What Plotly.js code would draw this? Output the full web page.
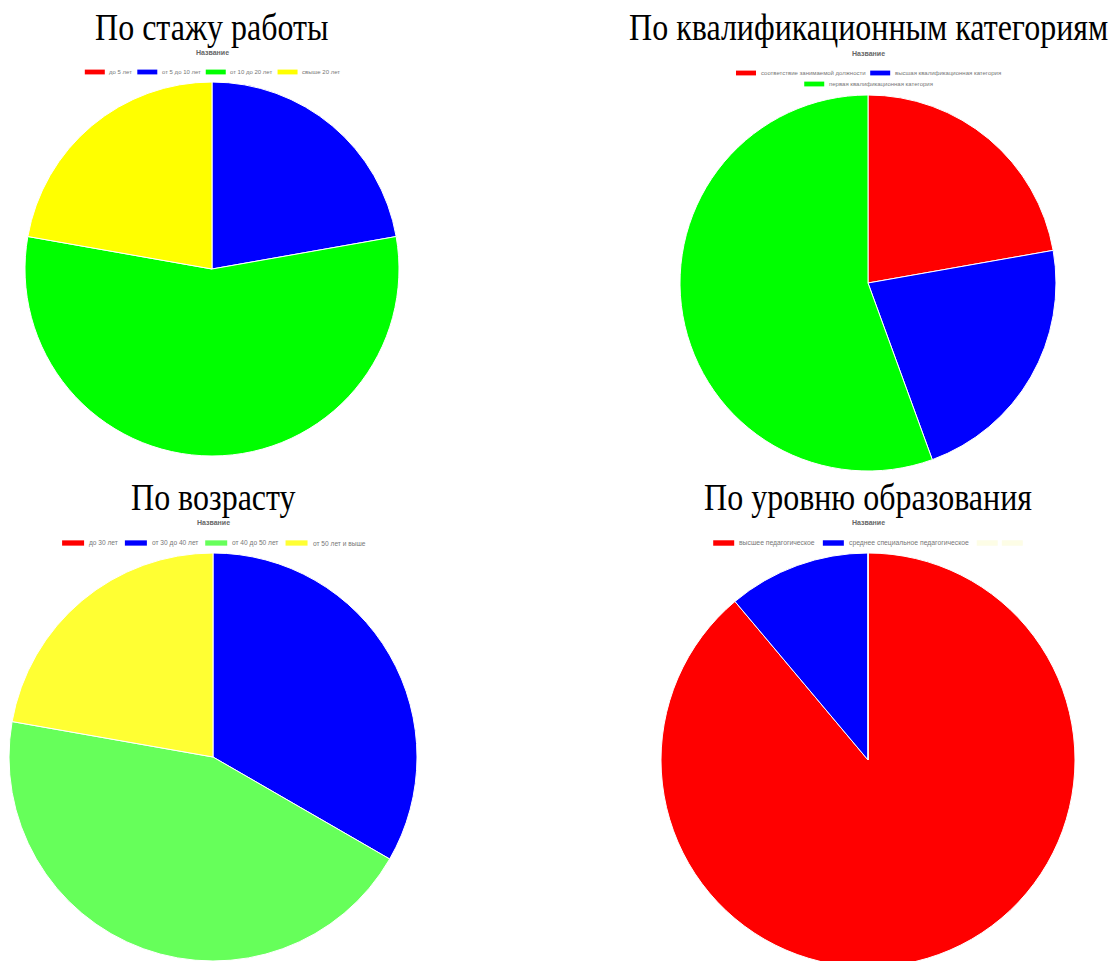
<!DOCTYPE html>
<html>
<head>
<meta charset="utf-8">
<script src="https://cdn.plot.ly/plotly-3.0.1.min.js"></script>
<style>
html, body { margin: 0; padding: 0; background: #fff; overflow: hidden; }
#chart { width: 1113px; height: 970px; }
.stretch { transform-box: fill-box; transform-origin: center; transform: scaleY(1.18); }
</style>
</head>
<body>
<div id="chart"></div>
<script>
// ---- data ----
const chartTitles = ["По стажу работы", "По квалификационным категориям", "По возрасту", "По уровню образования"];
const datasetName = "Название";

const experienceLabels = ["до 5 лет", "от 5 до 10 лет", "от 10 до 20 лет", "свыше 20 лет"];
const experienceValues = [0, 2, 5, 2];
const experienceColors = ["#ff0000", "#0000ff", "#00ff00", "#ffff00"];

const categoryLabels = ["соответствие занимаемой должности", "высшая квалификационная категория", "первая квалификационная категория"];
const categoryValues = [2, 2, 5];
const categoryColors = ["#ff0000", "#0000ff", "#00ff00"];

const ageLabels = ["до 30 лет", "от 30 до 40 лет", "от 40 до 50 лет", "от 50 лет и выше"];
const ageValues = [0, 3, 4, 2];
const ageColors = ["#ff0000", "#0000ff", "#66ff5a", "#ffff33"];

const educationLabels = ["высшее педагогическое", "среднее специальное педагогическое", ""];
const educationValues = [8, 1, 0];
const educationColors = ["#ff0000", "#0000ff", "#fdfde6"];

// ---- layout settings (pixels) ----
const W = 1113, H = 970;
const panels = [
  {labels: experienceLabels, values: experienceValues, colors: experienceColors,
   cx: 212, cy: 269, r: 187, titleY: 27, nameY: 52, legendY: 72, fs: 6, box: 20, gap: 6, maxW: 330},
  {labels: categoryLabels, values: categoryValues, colors: categoryColors,
   cx: 868, cy: 283, r: 188, titleY: 27, nameY: 53, legendY: 73, fs: 6, box: 20, gap: 6, maxW: 330},
  {labels: ageLabels, values: ageValues, colors: ageColors,
   cx: 213, cy: 757, r: 204, titleY: 497, nameY: 522, legendY: 543, fs: 6.6, box: 22, gap: 8, maxW: 400},
  {labels: educationLabels, values: educationValues, colors: educationColors,
   cx: 868, cy: 760, r: 207, titleY: 497, nameY: 522, legendY: 543, fs: 6.8, box: 21, gap: 9, maxW: 400}
];

const ctx = document.createElement("canvas").getContext("2d");
function textW(t, fs) {
  ctx.font = fs + 'px "Liberation Sans"';
  return ctx.measureText(t).width;
}
const px = x => x / W;
const py = y => 1 - y / H;

const traces = [];
const shapes = [];
const annotations = [];
const titleIdx = [];

panels.forEach((p, i) => {
  traces.push({
    type: "pie",
    labels: p.labels.map((l, k) => l === "" ? "—" + k : l),
    values: p.values,
    sort: false,
    direction: "clockwise",
    rotation: 0,
    textinfo: "none",
    hoverinfo: "none",
    showlegend: false,
    marker: {colors: p.colors, line: {color: "#ffffff", width: 1}},
    domain: {x: [px(p.cx - p.r), px(p.cx + p.r)], y: [py(p.cy + p.r), py(p.cy - p.r)]}
  });

  titleIdx.push(annotations.length);
  annotations.push({
    text: chartTitles[i], xref: "paper", yref: "paper",
    x: px(p.cx), y: py(p.titleY), xanchor: "center", yanchor: "middle",
    showarrow: false, font: {family: '"Liberation Serif", "Times New Roman", serif', size: 32, color: "#000"}
  });
  annotations.push({
    text: "<b>" + datasetName + "</b>", xref: "paper", yref: "paper",
    x: px(p.cx), y: py(p.nameY), xanchor: "center", yanchor: "middle",
    showarrow: false, font: {family: '"Liberation Sans", Arial, sans-serif', size: 7, color: "#666"}
  });

  // legend rows (Chart.js style)
  const gapText = p.fs * 0.6, gapItem = p.gap;
  const items = p.labels.map((l, k) => ({label: l, color: p.colors[k],
    w: p.box + gapText + (l === "" ? p.box : textW(l, p.fs))}));
  const rows = [[]];
  let cur = 0;
  items.forEach(it => {
    const add = (rows[rows.length - 1].length ? gapItem : 0) + it.w;
    if (cur + add > p.maxW && rows[rows.length - 1].length) { rows.push([it]); cur = it.w; }
    else { rows[rows.length - 1].push(it); cur += add; }
  });
  rows.forEach((row, ri) => {
    const total = row.reduce((s, it) => s + it.w, 0) + gapItem * (row.length - 1);
    let x = p.cx - total / 2;
    const y = p.legendY + ri * (p.fs + 5);
    const bh = p.fs * 0.8;
    row.forEach(it => {
      shapes.push({type: "rect", xref: "paper", yref: "paper",
        x0: px(x), x1: px(x + p.box), y0: py(y - bh / 2), y1: py(y + bh / 2),
        fillcolor: it.color, line: {width: 0}});
      if (it.label === "") {
        shapes.push({type: "rect", xref: "paper", yref: "paper",
          x0: px(x + p.box + gapText), x1: px(x + p.box * 2 + gapText), y0: py(y - bh / 2), y1: py(y + bh / 2),
          fillcolor: "#fdfde6", line: {width: 0}});
      } else {
        annotations.push({text: it.label, xref: "paper", yref: "paper",
          x: px(x + p.box + gapText), y: py(y), xanchor: "left", yanchor: "middle",
          showarrow: false, borderpad: 0,
          font: {family: '"Liberation Sans", Arial, sans-serif', size: p.fs, color: "#777"}});
      }
      x += it.w + gapItem;
    });
  });
});

Plotly.newPlot("chart", traces, {
  width: W, height: H,
  margin: {l: 0, r: 0, t: 0, b: 0},
  paper_bgcolor: "#ffffff",
  showlegend: false,
  shapes: shapes,
  annotations: annotations
}, {displayModeBar: false, staticPlot: true}).then(gd => {
  const groups = gd.querySelectorAll(".annotation");
  titleIdx.forEach(k => {
    const t = groups[k] && groups[k].querySelector("text");
    if (t) t.classList.add("stretch");
  });
});
</script>
</body>
</html>
